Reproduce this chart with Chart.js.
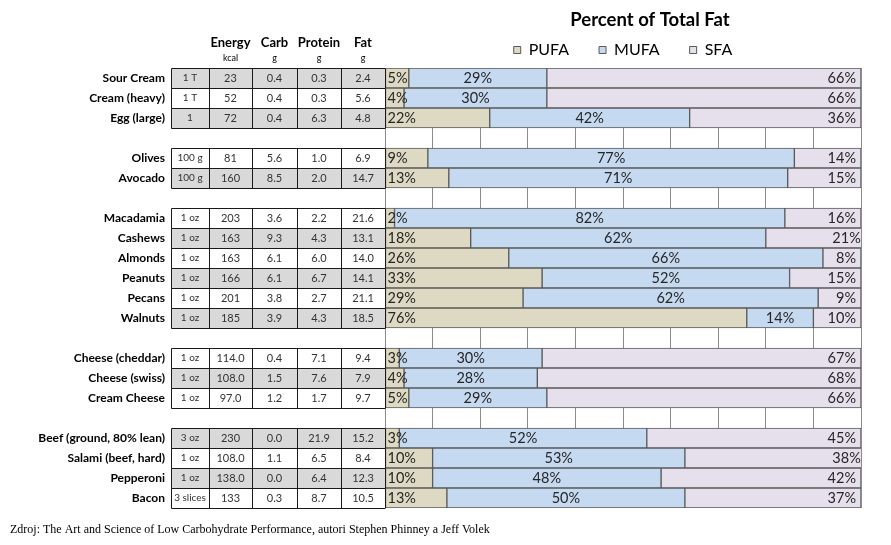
<!DOCTYPE html>
<html>
<head>
<meta charset="utf-8">
<script src="https://cdn.jsdelivr.net/npm/chart.js@4.4.0/dist/chart.umd.min.js"></script>
<style>
  body { margin: 0; background: #fff; }
</style>
</head>
<body>
<canvas id="fatChart" width="891" height="545"></canvas>
<script>
// rows, '' = spacer row between groups
const foods = ['Sour Cream', 'Cream (heavy)', 'Egg (large)', '',
  'Olives', 'Avocado', '',
  'Macadamia', 'Cashews', 'Almonds', 'Peanuts', 'Pecans', 'Walnuts', '',
  'Cheese (cheddar)', 'Cheese (swiss)', 'Cream Cheese', '',
  'Beef (ground, 80% lean)', 'Salami (beef, hard)', 'Pepperoni', 'Bacon'];
const serving = ['1 T', '1 T', '1', '', '100 g', '100 g', '', '1 oz', '1 oz', '1 oz', '1 oz', '1 oz', '1 oz', '',
  '1 oz', '1 oz', '1 oz', '', '3 oz', '1 oz', '1 oz', '3 slices'];
const energy = ['23', '52', '72', '', '81', '160', '', '203', '163', '163', '166', '201', '185', '',
  '114.0', '108.0', '97.0', '', '230', '108.0', '138.0', '133'];
const carb = ['0.4', '0.4', '0.4', '', '5.6', '8.5', '', '3.6', '9.3', '6.1', '6.1', '3.8', '3.9', '',
  '0.4', '1.5', '1.2', '', '0.0', '1.1', '0.0', '0.3'];
const protein = ['0.3', '0.3', '6.3', '', '1.0', '2.0', '', '2.2', '4.3', '6.0', '6.7', '2.7', '4.3', '',
  '7.1', '7.6', '1.7', '', '21.9', '6.5', '6.4', '8.7'];
const fat = ['2.4', '5.6', '4.8', '', '6.9', '14.7', '', '21.6', '13.1', '14.0', '14.1', '21.1', '18.5', '',
  '9.4', '7.9', '9.7', '', '15.2', '8.4', '12.3', '10.5'];
const shaded = [1, 0, 1, 0, 0, 1, 0, 0, 1, 0, 1, 0, 1, 0, 0, 1, 0, 0, 1, 0, 1, 0];

// percent of total fat (labels are shown rounded)
const pufa = [5, 4, 22, null, 9, 13.4, null, 2, 18, 26, 33, 29, 76, null, 3, 4, 5, null, 3, 10, 10, 13];
const mufa = [29, 30, 42, null, 77, 71.2, null, 82, 62, 66, 52, 62, 14, null, 30, 28, 29, null, 52, 53, 48, 50];
const sfa = [66, 66, 36, null, 14, 15.4, null, 16, 21, 8, 15, 9, 10, null, 67, 68, 66, null, 45, 38, 42, 37];

const colCols = [171, 209, 252, 297, 341, 385];
const headers = [['Energy', 'kcal'], ['Carb', 'g'], ['Protein', 'g'], ['Fat', 'g']];

const tablePlugin = {
  id: 'table',
  afterDraw(chart) {
    const ctx = chart.ctx;
    const y = chart.scales.y;
    ctx.save();
    // title
    ctx.fillStyle = '#000';
    ctx.font = 'bold 18.5px Lato';
    ctx.textAlign = 'center';
    ctx.textBaseline = 'middle';
    ctx.fillText('Percent of Total Fat', 650, 20);

    // column headers
    headers.forEach((h, k) => {
      const cx = (colCols[k + 1] + colCols[k + 2]) / 2;
      ctx.font = 'bold 13px Lato';
      ctx.fillText(h[0], cx, 43);
      ctx.font = '9px Lato';
      ctx.fillText(h[1], cx, 58);
    });

    foods.forEach((name, i) => {
      if (!name) return;
      const yc = y.getPixelForValue(i);
      const top = Math.round(yc - 10) + 0.5;
      if (shaded[i]) {
        ctx.fillStyle = '#d9d9d9';
        ctx.fillRect(colCols[0], top, colCols[5] - colCols[0], 20);
      }
      ctx.strokeStyle = '#1a1a1a';
      ctx.lineWidth = 1;
      ctx.beginPath();
      ctx.moveTo(colCols[0] + 0.5, top); ctx.lineTo(colCols[5], top);
      ctx.moveTo(colCols[0] + 0.5, top + 20); ctx.lineTo(colCols[5], top + 20);
      colCols.forEach(cx => { ctx.moveTo(cx + 0.5, top); ctx.lineTo(cx + 0.5, top + 20); });
      ctx.stroke();

      ctx.fillStyle = '#000';
      ctx.font = 'bold 12px Lato';
      ctx.textAlign = 'right';
      ctx.fillText(name, 165, yc);

      ctx.textAlign = 'center';
      ctx.fillStyle = '#333';
      ctx.font = '10px Lato';
      ctx.fillText(serving[i], (colCols[0] + colCols[1]) / 2, yc);
      ctx.font = '11px Lato';
      [energy, carb, protein, fat].forEach((arr, k) => {
        ctx.fillText(arr[i], (colCols[k + 1] + colCols[k + 2]) / 2, yc);
      });
    });

    // source note
    ctx.fillStyle = '#000';
    ctx.textAlign = 'left';
    ctx.font = '12px "Liberation Serif"';
    ctx.fillText('Zdroj: The Art and Science of Low Carbohydrate Performance, autori Stephen Phinney a Jeff Volek', 10, 530);
    ctx.restore();
  }
};

const labelPlugin = {
  id: 'segLabels',
  afterDatasetsDraw(chart) {
    const ctx = chart.ctx;
    ctx.save();
    ctx.font = '14.5px Lato';
    ctx.fillStyle = '#262626';
    ctx.textBaseline = 'middle';
    chart.data.datasets.forEach((ds, d) => {
      const meta = chart.getDatasetMeta(d);
      meta.data.forEach((bar, i) => {
        const v = ds.data[i];
        if (v == null) return;
        const txt = Math.round(v) + '%';
        if (d === 0) {
          ctx.textAlign = 'left';
          ctx.fillText(txt, bar.base + 2, bar.y);
        } else if (d === 1) {
          ctx.textAlign = 'center';
          ctx.fillText(txt, (bar.base + bar.x) / 2, bar.y);
        } else {
          ctx.textAlign = 'right';
          ctx.fillText(txt, bar.x - 5, bar.y);
        }
      });
    });
    ctx.restore();
  }
};

const ctx = document.getElementById('fatChart').getContext('2d');
const fatChart = new Chart(ctx, {
  type: 'bar',
  data: {
    labels: foods,
    datasets: [
      { label: 'PUFA', data: pufa, backgroundColor: '#ddd9c3', borderColor: '#595959' },
      { label: 'MUFA', data: mufa, backgroundColor: '#c5d9f1', borderColor: '#595959' },
      { label: 'SFA', data: sfa, backgroundColor: '#e6e0ec', borderColor: '#595959' }
    ]
  },
  options: {
    indexAxis: 'y',
    responsive: false,
    animation: false,
    layout: { padding: { left: 385, right: 30, top: 12, bottom: 37 } },
    datasets: {
      bar: { barPercentage: 1, categoryPercentage: 1, borderWidth: 1, borderSkipped: false }
    },
    scales: {
      x: {
        stacked: true,
        min: 0,
        max: 100,
        ticks: { display: false, stepSize: 10 },
        grid: { color: '#8c8c8c', lineWidth: 1, drawTicks: false },
        border: { display: false }
      },
      y: { stacked: true, display: false }
    },
    plugins: {
      legend: {
        position: 'top',
        labels: {
          boxWidth: 7,
          boxHeight: 7,
          padding: 30,
          color: '#000',
          font: { family: 'Lato', size: 16 }
        }
      },
      tooltip: { enabled: false }
    }
  },
  plugins: [tablePlugin, labelPlugin]
});
</script>
</body>
</html>
